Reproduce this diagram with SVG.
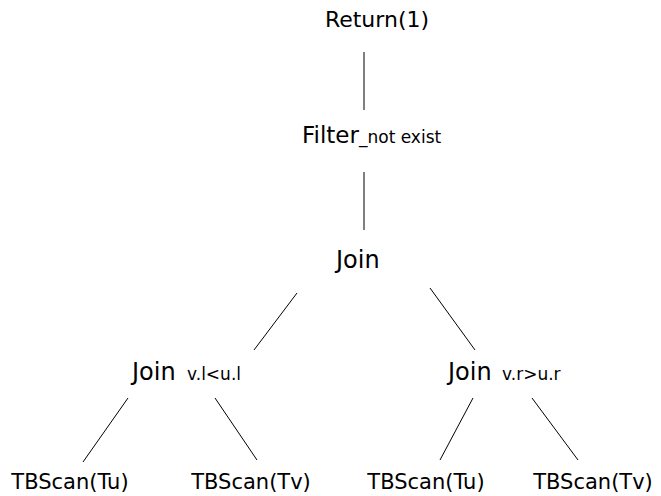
<svg xmlns="http://www.w3.org/2000/svg" width="661" height="496" viewBox="0 0 661 496">
<style>
text{font-family:"DejaVu Sans","Liberation Sans",sans-serif;fill:#000;}
.m{font-size:21px;}
.j{font-size:24px;}
.s{font-size:17px;}
.e{stroke:#000;stroke-width:1;fill:none;}
</style>
<rect width="661" height="496" fill="#fff"/>
<g id="connectors">
<line class="e" x1="364" y1="52" x2="364" y2="110"/>
<line class="e" x1="364" y1="172" x2="364" y2="230"/>
<line class="e" x1="297" y1="293" x2="254" y2="350"/>
<line class="e" x1="430" y1="288" x2="475" y2="350"/>
<line class="e" x1="128" y1="398" x2="83" y2="462"/>
<line class="e" x1="215" y1="398" x2="257" y2="460"/>
<line class="e" x1="473" y1="398" x2="440" y2="460"/>
<line class="e" x1="532" y1="398" x2="578" y2="460"/>
</g>
<g id="return"><text x="377" y="27" font-size="22" text-anchor="middle">Return(1)</text></g>
<g id="filter"><text class="m" x="302" y="143"><tspan font-size="23">Filter</tspan><tspan class="s">_not exist</tspan></text></g>
<g id="join"><text class="j" x="336" y="268">Join</text></g>
<g id="join1"><text class="j" x="132" y="380">Join<tspan class="s" x="187">v.l&lt;u.l</tspan></text></g>
<g id="join2"><text class="j" x="448" y="380">Join<tspan class="s" x="502">v.r&gt;u.r</tspan></text></g>
<g id="scan1"><text class="m" x="70" y="489" text-anchor="middle">TBScan(Tu)</text></g>
<g id="scan2"><text class="m" x="251" y="489" text-anchor="middle">TBScan(Tv)</text></g>
<g id="scan3"><text class="m" x="426" y="489" text-anchor="middle">TBScan(Tu)</text></g>
<g id="scan4"><text class="m" x="593" y="489" text-anchor="middle">TBScan(Tv)</text></g>
</svg>
